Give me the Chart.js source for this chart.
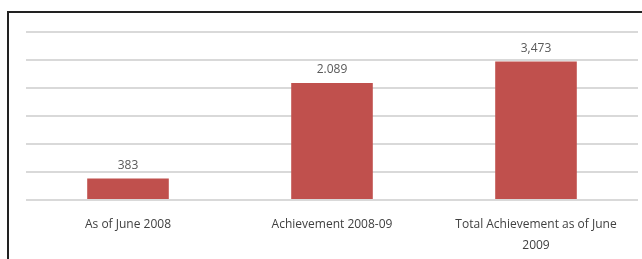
<!DOCTYPE html>
<html>
<head>
<meta charset="utf-8">
<script src="https://cdn.jsdelivr.net/npm/chart.js@4.4.1/dist/chart.umd.min.js"></script>
<style>
  html, body { margin: 0; padding: 0; background: #fff; }
  body { width: 642px; height: 259px; position: relative; overflow: hidden; }
  #frame { position: absolute; left: 7px; top: 11px; width: 700px; height: 300px;
           border-left: 2px solid #222; border-top: 2px solid #222; }
  #wrap { position: absolute; left: 0; top: 0; width: 642px; height: 262px; }
</style>
</head>
<body>
<div id="frame"></div>
<div id="wrap"><canvas id="c"></canvas></div>
<script>
const categories = ["As of June 2008", "Achievement 2008-09", ["Total Achievement as of June", "2009"]];
const values = [383, 2089, 2473];
const valueLabels = ["383", "2.089", "3,473"];
const yMin = 0, yMax = 3000, yStep = 500;

const barLabels = {
  id: 'barLabels',
  afterDatasetsDraw(chart) {
    const ctx = chart.ctx;
    const meta = chart.getDatasetMeta(0);
    ctx.save();
    ctx.font = '12px "Open Sans"';
    ctx.fillStyle = '#595959';
    ctx.textAlign = 'center';
    ctx.textBaseline = 'middle';
    meta.data.forEach((bar, i) => {
      ctx.fillText(valueLabels[i], bar.x, bar.y - 13);
    });
    ctx.restore();
  }
};

new Chart(document.getElementById('c'), {
  type: 'bar',
  data: {
    labels: categories,
    datasets: [{
      data: values,
      backgroundColor: '#c0504d',
      borderWidth: 0,
      categoryPercentage: 1,
      barPercentage: 0.4
    }]
  },
  options: {
    responsive: true,
    maintainAspectRatio: false,
    animation: false,
    layout: { padding: { left: 26, right: 4, top: 32, bottom: 0 } },
    plugins: { legend: { display: false }, tooltip: { enabled: false }, title: { display: false } },
    scales: {
      x: {
        grid: { display: false },
        border: { display: false },
        ticks: { color: '#404040', font: { family: 'Open Sans', size: 12, lineHeight: 1.75 }, padding: 6, maxRotation: 0, autoSkip: false }
      },
      y: {
        min: yMin, max: yMax,
        ticks: { display: false, stepSize: yStep },
        grid: { color: '#d9d9d9', lineWidth: 2, drawTicks: false },
        border: { display: false }
      }
    }
  },
  plugins: [barLabels]
});
</script>
</body>
</html>
